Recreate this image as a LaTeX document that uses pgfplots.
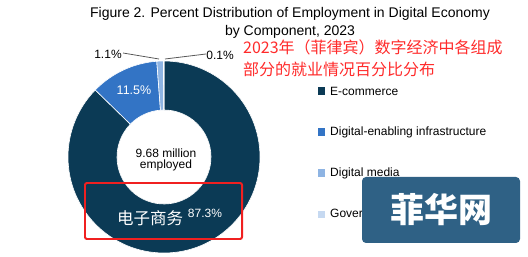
\documentclass[border=0pt]{standalone}
\usepackage{pgfplots}
\pgfplotsset{compat=1.18}
\usepackage{fontspec}
\setmainfont{Liberation Sans}
\newfontfamily\cjk{Noto Sans CJK SC}
\definecolor{ecom}{HTML}{0B3A55}
\definecolor{infra}{HTML}{3374C5}
\definecolor{media}{HTML}{8EB4E3}
\definecolor{gov}{HTML}{C6D9F1}
\definecolor{wm}{HTML}{2F6185}
\definecolor{redann}{HTML}{FF2A2A}
\definecolor{redbox}{HTML}{F02020}
% shares (percent), clockwise from 12 o'clock
\def\pA{87.3}\def\pB{11.5}\def\pC{1.1}\def\pD{0.1}
\pgfmathsetmacro\aZ{90}
\pgfmathsetmacro\aA{\aZ-3.6*\pA}
\pgfmathsetmacro\aB{\aA-3.6*\pB}
\pgfmathsetmacro\aC{\aB-3.6*\pC}
\pgfmathsetmacro\aD{\aC-3.6*\pD}
\newcommand\slice[3]{\fill[#1,draw=white,line width=0.6pt] (axis cs:164,100) ++(#2:96bp) arc[start angle=#2,end angle=#3,radius=96bp] -- ++(#3+180:49bp) arc[start angle=#3,end angle=#2,radius=47bp] -- cycle;}
\newcommand\fs[1]{\fontsize{#1bp}{#1bp}\selectfont}
\begin{document}
\begin{tikzpicture}
\begin{axis}[width=528bp,height=257bp,scale only axis,xmin=0,xmax=528,ymin=0,ymax=257,axis lines=none,clip=false]
\path (axis cs:0,0) rectangle (axis cs:528,257);
\slice{ecom}{\aZ}{\aA}
\slice{infra}{\aA}{\aB}
\slice{media}{\aB}{\aC}
\slice{gov}{\aC}{\aD}
% title
\node[align=center,font=\fontsize{14bp}{18bp}\selectfont] at (axis cs:290,234) {Figure 2. Percent Distribution of Employment in Digital Economy\\by Component, 2023};
% red annotation
\node[anchor=west,inner sep=0pt,text=redann,font=\cjk\fs{16}] at (axis cs:243,210) {2023年（菲律宾）数字经济中各组成};
\node[anchor=west,inner sep=0pt,text=redann,font=\cjk\fs{16}] at (axis cs:243,188) {部分的就业情况百分比分布};
% labels
\node[text=white,font=\fs{12.5}] at (axis cs:134,167) {11.5\%};
\node[align=center,font=\fontsize{12bp}{11.5bp}\selectfont] at (axis cs:166,97) {9.68 million\\employed};
\node[text=white,font=\cjk\fs{16.5}] at (axis cs:150,39) {电子商务};
\node[text=white,font=\fs{12}] at (axis cs:205,44) {87.3\%};
\node[font=\fs{12}] at (axis cs:108,203) {1.1\%};
\node[font=\fs{12}] at (axis cs:220,202) {0.1\%};
\draw[gray!70!black,line width=0.8pt] (axis cs:123,204) -- (axis cs:159,198);
\draw[gray!70!black,line width=0.8pt] (axis cs:165,198) -- (axis cs:206,203);
% red box
\draw[redbox,line width=2pt,rounded corners=2pt] (axis cs:85,74) rectangle (axis cs:242,18);
% legend
\addplot[only marks,mark=square*,mark size=3.3bp,ecom,mark options={draw=ecom,fill=ecom}] coordinates {(321,166)};
\addplot[only marks,mark=square*,mark size=3.3bp,infra,mark options={draw=infra,fill=infra}] coordinates {(321,125)};
\addplot[only marks,mark=square*,mark size=3.3bp,media,mark options={draw=media,fill=media}] coordinates {(321,84)};
\addplot[only marks,mark=square*,mark size=3.3bp,gov,mark options={draw=gov,fill=gov}] coordinates {(321,43)};
\node[anchor=west,inner sep=0pt,font=\fs{12}] at (axis cs:330,166) {E-commerce};
\node[anchor=west,inner sep=0pt,font=\fs{12}] at (axis cs:330,125) {Digital-enabling infrastructure};
\node[anchor=west,inner sep=0pt,font=\fs{12}] at (axis cs:330,84) {Digital media};
\node[anchor=west,inner sep=0pt,font=\fs{12}] at (axis cs:330,43) {Government digital services};
% watermark
\fill[wm,rounded corners=4pt] (axis cs:362,80) rectangle (axis cs:520,14);
\node[text=white,font=\cjk\bfseries\fs{34}] at (axis cs:441,47) {菲华网};
\end{axis}
\end{tikzpicture}
\end{document}
